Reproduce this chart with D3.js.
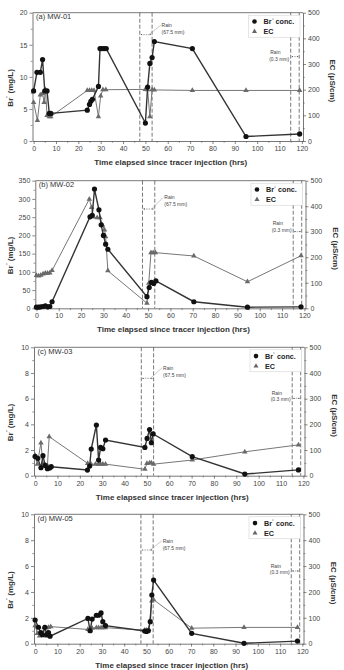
<!DOCTYPE html>
<html><head><meta charset="utf-8">
<script src="https://cdn.jsdelivr.net/npm/d3@7"></script>
<style>
html,body{margin:0;padding:0;background:#fff;}
svg{display:block;font-family:"Liberation Sans",Arial,sans-serif;}
</style></head><body>
<svg id="c" width="344" height="670"></svg>
<script>
// ---------- DATA ----------
const panelTitles = ["(a) MW-01", "(b) MW-02", "(c) MW-03", "(d) MW-05"];
const brMax = [20, 350, 10, 10];
const brTicks = [[0,5,10,15,20],[0,50,100,150,200,250,300,350],[0,2,4,6,8,10],[0,2,4,6,8,10]];
const ecTicks = [0,100,200,300,400,500];
const timeTicks = [0,10,20,30,40,50,60,70,80,90,100,110,120];
const rainStart = [47.5, 53];
const rainLate = [115, 118.8];
const rainLabel1 = ["Rain", "(67.5 mm)"];
const rainLabel2 = ["Rain", "(0.3 mm)"];
const legendLabels = ["Br\u207B conc.", "EC"];

// MW-01
const tBrA = [0,1.5,3,4,5,6,7,7.7,24,25,25.6,26.3,29,29.7,30.5,31.5,32.5,50,51,52,53,54,71,95,119];
const brA  = [7.8,10.7,10.7,12.7,7.8,7.8,4.3,4.3,4.8,5.7,6.2,6.5,8.5,14.4,14.4,14.4,14.4,2.8,8.4,12.1,13.0,15.5,14.4,0.7,1.1];
const tEcA = [0,1.7,3,4,4.7,5.3,6,7,7.7,24,25,26,27,29,30,31,32.3,50,51,52,53,54,71,95,119];
const ecA  = [150,80,180,185,150,200,100,95,95,197,197,197,197,95,176,200,200,201,200,95,200,199,197,197,197];
// MW-02
const tBrB = [0,1,2,3,4,5,6,7,24,25,26,28,29,30,31,32,49.5,50.5,51.5,52.5,53.5,70.5,94.5,118.5];
const brB  = [3,3,4,5,7,4,5,18,251,255,327,270,229,200,176,162,32,57,71,68,75,18,3,4];
const tEcB = [0,1,2,3,4,5,6,7,23.7,24.7,25.2,27.2,28.5,29.6,30.5,31,32,49.5,50.3,51.3,52.3,53.3,70.5,94.5,118.5];
const ecB  = [129,127,130,135,138,138,139,148,428,395,358,355,355,326,307,281,147,20,98,218,218,218,205,104,206];
// MW-03
const tBrC = [0,1.2,2.6,3.5,4.5,5.5,6.5,7.2,23.4,24.4,25.1,27.4,28.4,29.3,30.3,31.5,49.1,50.1,51.2,52,52.8,70.3,93.8,117.8];
const brC  = [1.5,1.35,0.62,1.56,0.8,0.55,0.6,0.7,0.44,0.75,2.08,3.95,1.22,2.2,2.1,2.78,2.2,2.9,3.6,2.57,3.25,1.48,0.13,0.45];
const tEcC = [0,1,2.6,3.5,4.5,5.5,6.3,23.5,24.3,25,27,28.4,29.3,30.3,31.5,49.1,50,51.2,52,53,70.3,93.8,117.8];
const ecC  = [78,45,128,45,42,40,152,48,38,45,45,45,45,45,45,25,48,50,50,45,61,93,120];
// MW-05
const tBrD = [0,1.5,2.5,3.3,4.4,5.2,6,6.7,23.7,24.7,25.6,27.5,28.5,29.6,30.4,31.6,49.2,50,50.8,51.7,52.4,53.2,70.3,93.8,117.8];
const brD  = [1.83,1.27,0.85,0.7,1.27,0.7,0.85,0.58,1.95,1.0,1.9,2.2,2.2,2.38,1.7,1.4,0.98,0.95,1.0,1.7,3.76,4.92,0.8,0.03,0.2];
const tEcD = [0,1,2,3,4,5,6,7,23.7,24.7,25.6,27.5,28.5,29.6,30.4,31.6,49.2,50,51,52.4,53.2,70.3,93.8,117.8];
const ecD  = [70,40,30,32,62,30,63,66,55,50,60,62,62,62,62,62,52,52,55,165,170,60,63,63];

const brSeries = [[tBrA,brA],[tBrB,brB],[tBrC,brC],[tBrD,brD]];
const ecSeries = [[tEcA,ecA],[tEcB,ecB],[tEcC,ecC],[tEcD,ecD]];

// ---------- LAYOUT ----------
const layout = [
  {top:12.7, bottom:141,   left:32.5, right:303,   r1:12.6, a1:22,   r2:39.6, a2:44},
  {top:180.7,bottom:308.3, left:35.3, right:305.5, r1:16.6, a1:28.3, r2:42.6, a2:51},
  {top:347.3,bottom:475.7, left:34,   right:304.5, r1:20.4, a1:31,   r2:45.4, a2:51},
  {top:514.3,bottom:643.7, left:34,   right:303.5, r1:26.7, a1:35.7, r2:51.4, a2:56.7}
];

const svg = d3.select("#c");
const axisCol = "#555", txtCol = "#444";

svg.append("defs").append("marker").attr("id","arr").attr("viewBox","0 0 6 6")
  .attr("refX",5.5).attr("refY",3).attr("markerWidth",3).attr("markerHeight",3)
  .attr("orient","auto-start-reverse")
  .append("path").attr("d","M0,0L6,3L0,6Z").attr("fill","#444");

layout.forEach((L, i) => {
  const g = svg.append("g");
  const x = d3.scaleLinear().domain([-0.5, 120.5]).range([L.left, L.right]);
  const yL = d3.scaleLinear().domain([0, brMax[i]]).range([L.bottom, L.top]);
  const yR = d3.scaleLinear().domain([0, 500]).range([L.bottom, L.top]);

  // frame top
  g.append("line").attr("x1",L.left).attr("x2",L.right).attr("y1",L.top).attr("y2",L.top)
    .attr("stroke",axisCol).attr("stroke-width",0.8);

  // minor ticks
  const xMinor = d3.range(5, 120, 10);
  const lStep = brTicks[i][1]-brTicks[i][0];
  const lMinor = d3.range(lStep/2, brMax[i], lStep);
  const rMinor = d3.range(50, 500, 100);

  const styleAxis = sel => {
    sel.select(".domain").attr("stroke",axisCol).attr("stroke-width",0.8);
    sel.selectAll(".tick line").attr("stroke",axisCol).attr("stroke-width",0.7);
    sel.selectAll("text").attr("fill",txtCol).attr("font-size",7).attr("font-family","Liberation Sans, Arial, sans-serif");
  };

  g.append("g").attr("transform",`translate(0,${L.bottom})`)
    .call(d3.axisBottom(x).tickValues(xMinor).tickSize(1.8).tickFormat(""))
    .call(s=>{s.select(".domain").remove(); s.selectAll("line").attr("stroke",axisCol).attr("stroke-width",0.6);});
  g.append("g").attr("transform",`translate(0,${L.bottom})`)
    .call(d3.axisBottom(x).tickValues(timeTicks).tickSize(3).tickSizeOuter(0).tickPadding(2))
    .call(styleAxis);

  g.append("g").attr("transform",`translate(${L.left},0)`)
    .call(d3.axisLeft(yL).tickValues(lMinor).tickSize(1.8).tickFormat(""))
    .call(s=>{s.select(".domain").remove(); s.selectAll("line").attr("stroke",axisCol).attr("stroke-width",0.6);});
  g.append("g").attr("transform",`translate(${L.left},0)`)
    .call(d3.axisLeft(yL).tickValues(brTicks[i]).tickSize(3).tickSizeOuter(0).tickPadding(2))
    .call(styleAxis);

  g.append("g").attr("transform",`translate(${L.right},0)`)
    .call(d3.axisRight(yR).tickValues(rMinor).tickSize(1.8).tickFormat(""))
    .call(s=>{s.select(".domain").remove(); s.selectAll("line").attr("stroke",axisCol).attr("stroke-width",0.6);});
  g.append("g").attr("transform",`translate(${L.right},0)`)
    .call(d3.axisRight(yR).tickValues(ecTicks).tickSize(3).tickSizeOuter(0).tickPadding(2))
    .call(styleAxis);

  // axis titles
  g.append("text").attr("x",(L.left+L.right)/2+3).attr("y",L.bottom+24)
    .attr("text-anchor","middle").attr("font-size",8).attr("font-weight","bold").attr("fill","#333")
    .text("Time elapsed since tracer injection (hrs)");
  const cy = (L.top+L.bottom)/2;
  const lt = g.append("text").attr("transform",`translate(12.5,${cy+11}) rotate(-90)`)
    .attr("text-anchor","middle").attr("font-size",8).attr("font-weight","bold").attr("fill","#333");
  lt.append("tspan").text("Br");
  lt.append("tspan").attr("font-size",5.5).attr("dy",-3).text("\u207B");
  lt.append("tspan").attr("dy",3).text(" (mg/L)");
  g.append("text").attr("transform",`translate(${L.right+27},${cy+4}) rotate(90)`)
    .attr("text-anchor","middle").attr("font-size",8).attr("font-weight","bold").attr("fill","#333")
    .text("EC (\u03BCS/cm)");

  // panel label
  g.append("text").attr("x",L.left+3.5).attr("y",L.top+6.5).attr("font-size",7.5).attr("fill","#333")
    .text(panelTitles[i]);

  // dashed rain lines
  [...rainStart, ...rainLate].forEach(t => {
    g.append("line").attr("x1",x(t)).attr("x2",x(t)).attr("y1",L.top).attr("y2",L.bottom)
      .attr("stroke","#555").attr("stroke-width",0.8).attr("stroke-dasharray","4,2");
  });
  // rain arrows
  const ay1 = L.top+L.a1, ay2 = L.top+L.a2;
  g.append("line").attr("x1",x(rainStart[0])+1).attr("x2",x(rainStart[1])-1).attr("y1",ay1).attr("y2",ay1)
    .attr("stroke","#444").attr("stroke-width",0.5).attr("stroke-dasharray","1.5,1")
    .attr("marker-start","url(#arr)").attr("marker-end","url(#arr)");
  g.append("line").attr("x1",x(rainLate[0])+1).attr("x2",x(rainLate[1])-1).attr("y1",ay2).attr("y2",ay2)
    .attr("stroke","#444").attr("stroke-width",0.5).attr("stroke-dasharray","1.5,1")
    .attr("marker-start","url(#arr)").attr("marker-end","url(#arr)");
  // rain labels
  const rx1 = x(rainStart[1])+9.5, ry1 = L.top+L.r1;
  g.append("text").attr("x",rx1).attr("y",ry1+1.8).attr("font-size",5).attr("fill","#444").text(rainLabel1[0]);
  g.append("text").attr("x",rx1).attr("y",ry1+9).attr("font-size",5).attr("fill","#444").text(rainLabel1[1]);
  g.append("line").attr("x1",rx1-1).attr("y1",ry1).attr("x2",(x(rainStart[0])+x(rainStart[1]))/2+3).attr("y2",ay1)
    .attr("stroke","#777").attr("stroke-width",0.4);
  const rx2 = x(rainLate[0])-1.5, ry2 = L.top+L.r2;
  g.append("text").attr("x",rx2-19).attr("y",ry2+1.8).attr("font-size",5).attr("fill","#444").text(rainLabel2[0]);
  g.append("text").attr("x",rx2).attr("y",ry2+8.5).attr("text-anchor","end").attr("font-size",5).attr("fill","#444").text(rainLabel2[1]);

  // legend
  const lx = L.right-48.5, ly = L.top+8.8;
  g.append("rect").attr("x",lx-6).attr("y",L.top+2.5).attr("width",L.right-3-(lx-6)).attr("height",22)
    .attr("fill","#fff").attr("stroke","#ccc").attr("stroke-width",0.5);
  g.append("circle").attr("cx",lx).attr("cy",ly).attr("r",2.3).attr("fill","#111");
  g.append("path").attr("d",d3.symbol(d3.symbolTriangle,11)()).attr("transform",`translate(${lx},${ly+10})`).attr("fill","#666");
  const lt1 = g.append("text").attr("x",lx+9).attr("y",ly+2.5).attr("font-size",7.2).attr("font-weight","bold").attr("fill","#222");
  lt1.append("tspan").text("Br");
  lt1.append("tspan").attr("font-size",5).attr("dy",-2.5).text("\u207B");
  lt1.append("tspan").attr("dy",2.5).text(" conc.");
  g.append("text").attr("x",lx+9).attr("y",ly+12.5).attr("font-size",7.2).attr("font-weight","bold").attr("fill","#222").text(legendLabels[1]);

  // EC series
  const ecPts = ecSeries[i][0].map((t,k)=>[t, ecSeries[i][1][k]]);
  g.append("path").datum(ecPts)
    .attr("d", d3.line().x(d=>x(d[0])).y(d=>yR(d[1])))
    .attr("fill","none").attr("stroke","#777").attr("stroke-width",1);
  g.selectAll(null).data(ecPts).enter().append("path")
    .attr("d", d3.symbol(d3.symbolTriangle, 13)())
    .attr("transform", d=>`translate(${x(d[0])},${yR(d[1])})`)
    .attr("fill","#6a6a6a");

  // Br series
  const brPts = brSeries[i][0].map((t,k)=>[t, brSeries[i][1][k]]);
  g.append("path").datum(brPts)
    .attr("d", d3.line().x(d=>x(d[0])).y(d=>yL(d[1])))
    .attr("fill","none").attr("stroke","#333").attr("stroke-width",1.4);
  g.selectAll(null).data(brPts).enter().append("circle")
    .attr("cx", d=>x(d[0])).attr("cy", d=>yL(d[1])).attr("r",2.6).attr("fill","#111");
});
</script>
</body></html>
